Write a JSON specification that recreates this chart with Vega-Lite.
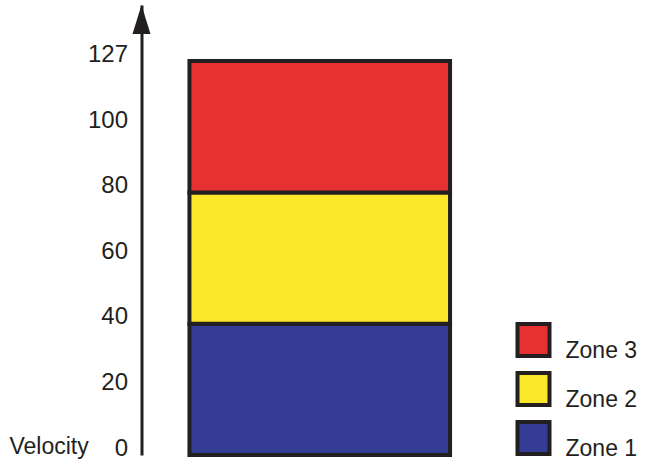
{
  "$schema": "https://vega.github.io/schema/vega-lite/v6.json",
  "width": 356.5,
  "height": 455,
  "autosize": {"type": "none"},
  "padding": {"left": 141.5, "top": 0, "right": 148, "bottom": 9},
  "background": "white",
  "config": {"view": {"stroke": null}, "font": "Liberation Sans"},
  "layer": [
    {
      "data": {
        "values": [
          {"parameter": "Velocity", "zone": "Zone 1", "low": 0, "high": 40},
          {"parameter": "Velocity", "zone": "Zone 2", "low": 40, "high": 80},
          {"parameter": "Velocity", "zone": "Zone 3", "low": 80, "high": 127}
        ]
      },
      "mark": {"type": "bar", "stroke": "#231f20", "strokeWidth": 4, "opacity": 1},
      "encoding": {
        "x": {
          "field": "parameter",
          "type": "nominal",
          "scale": {"paddingInner": 0, "paddingOuter": 0.184},
          "axis": null
        },
        "y": {
          "field": "low",
          "type": "quantitative",
          "scale": {"domain": [0, 100, 127, 140], "range": [455, 127, 61, 5], "nice": false, "zero": false},
          "axis": {
            "values": [0, 20, 40, 60, 80, 100, 127],
            "title": "Velocity",
            "titleAngle": 0,
            "titleAlign": "left",
            "titleBaseline": "alphabetic",
            "titleX": -132.5,
            "titleY": 453,
            "titleFontSize": 23,
            "titleFontWeight": "normal",
            "titleColor": "#231f20",
            "labelFontSize": 24,
            "labelColor": "#231f20",
            "labelBaseline": "alphabetic",
            "labelPadding": 14,
            "ticks": false,
            "tickSize": 0,
            "domainColor": "#231f20",
            "domainWidth": 3,
            "grid": false,
            "labelFlush": false,
            "labelOverlap": false
          }
        },
        "y2": {"field": "high"},
        "color": {
          "field": "zone",
          "type": "nominal",
          "scale": {"domain": ["Zone 3", "Zone 2", "Zone 1"], "range": ["#e73131", "#fbe72a", "#343c96"]},
          "legend": {
            "orient": "none",
            "legendX": 374,
            "legendY": 322,
            "title": null,
            "padding": 0,
            "symbolType": "square",
            "symbolSize": 1024,
            "symbolStrokeColor": "#231f20",
            "symbolStrokeWidth": 4,
            "symbolOpacity": 1,
            "labelFontSize": 23,
            "labelColor": "#231f20",
            "labelBaseline": "top",
            "labelOffset": 14,
            "rowPadding": 1,
            "encode": {"symbols": {"update": {"stroke": {"value": "#231f20"}, "strokeWidth": {"value": 4}}}}
          }
        }
      }
    },
    {
      "data": {"values": [{"axisEnd": 140}]},
      "mark": {"type": "point", "shape": "M0,0L0.62,2L-0.62,2Z", "size": 841, "filled": true, "color": "#231f20", "opacity": 1},
      "encoding": {
        "x": {"datum": 0, "type": "quantitative", "scale": {"domain": [0, 1]}, "axis": null},
        "y": {"field": "axisEnd", "type": "quantitative"}
      }
    }
  ],
  "resolve": {"scale": {"x": "independent"}}
}
